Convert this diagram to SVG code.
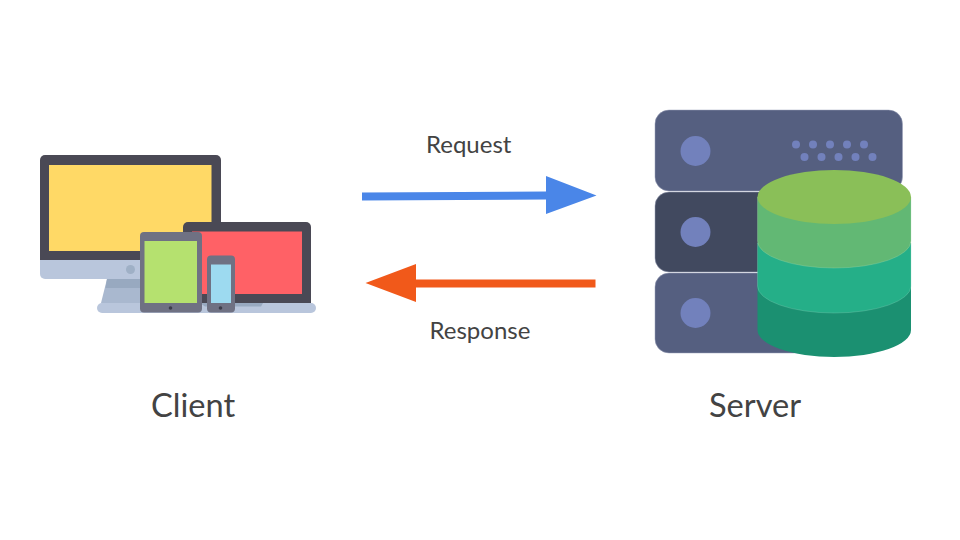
<svg xmlns="http://www.w3.org/2000/svg" width="960" height="540" viewBox="0 0 960 540">
<style>
text{font-family:Lato,"Open Sans",sans-serif;fill:#434343}
.lbl{font-size:24px}
.cap{font-size:32.600px}
.frame{fill:#4a4955}
.dev{fill:#6f7183}
.btn{fill:#3c3d4a}
.rackA{fill:#555f80;stroke:#9aa0b8;stroke-width:.5}
.rackB{fill:#41495f;stroke:#9aa0b8;stroke-width:.5}
.led{fill:#7281bc}
</style>
<rect width="960" height="540" fill="#fff"/>
<g id="client">
<path d="M107 279H188V303H101Z" fill="#a9b8cf"/>
<path d="M107 279H188V288H105.500Z" fill="#98a9c0"/>
<path d="M40 260H221V274a5 5 0 0 1-5 5H45a5 5 0 0 1-5-5Z" fill="#b9c6dc"/>
<path d="M45 155H216a5 5 0 0 1 5 5V260H40V160a5 5 0 0 1 5-5Z" class="frame"/>
<rect x="49" y="165" width="162.500" height="86" fill="#ffd966"/>
<circle cx="130.500" cy="269.500" r="4.500" fill="#9fb0c6"/>
<path d="M188 222H306a5 5 0 0 1 5 5V304H183V227a5 5 0 0 1 5-5Z" class="frame"/>
<rect x="192" y="231.500" width="110" height="62.500" fill="#ff6166"/>
<rect x="97" y="303" width="219" height="10" rx="5" fill="#b9c6dc"/>
<path d="M200 303H263L261 306.500H205Z" fill="#98a9c0"/>
<rect x="140" y="232" width="62" height="80.500" rx="4" class="dev"/>
<rect x="144.500" y="241" width="52.500" height="62" fill="#b5e16f"/>
<circle cx="170.500" cy="308" r="1.800" class="btn"/>
<rect x="207" y="255.500" width="28" height="57" rx="4" class="dev"/>
<rect x="211" y="264.500" width="20" height="38.500" fill="#9ddaf0"/>
<circle cx="220.500" cy="308" r="1.800" class="btn"/>
</g>
<g id="server">
<rect x="655" y="110" width="247.500" height="81" rx="14" class="rackA"/>
<rect x="655" y="192" width="180" height="80" rx="14" class="rackB"/>
<rect x="655" y="273" width="180" height="80" rx="14" class="rackA"/>
<circle cx="695.500" cy="151" r="15" class="led"/>
<circle cx="695.500" cy="232" r="15" class="led"/>
<circle cx="695.500" cy="313" r="15" class="led"/>
<g class="led">
<circle cx="796" cy="144.500" r="4"/><circle cx="813" cy="144.500" r="4"/><circle cx="830" cy="144.500" r="4"/><circle cx="847" cy="144.500" r="4"/><circle cx="864" cy="144.500" r="4"/>
<circle cx="804.500" cy="157" r="4"/><circle cx="821.500" cy="157" r="4"/><circle cx="838.500" cy="157" r="4"/><circle cx="855.500" cy="157" r="4"/><circle cx="872.500" cy="157" r="4"/>
</g>
</g>
<g id="database">
<path d="M757.500 286V330A76.750 27 0 0 0 911 330V286Z" fill="#1b9071"/>
<path d="M757.500 243V286A76.750 27 0 0 0 911 286V243Z" fill="#25af88" stroke="#8fd6c0" stroke-width=".3"/>
<path d="M757.500 197V241A76.750 27 0 0 0 911 241V197Z" fill="#62b874" stroke="#a9dcb0" stroke-width=".3"/>
<ellipse cx="834.250" cy="197" rx="76.750" ry="27" fill="#8abf58"/>
</g>
<g id="connectors">
<path d="M362 192.500L546 191.500V176L596.500 195.500L546 214V199.500L362 200.500Z" fill="#4a86e8"/>
<path d="M595.500 279.500H416V264L365.500 283L416 302V287.500H595.500Z" fill="#f1591a"/>
</g>
<text class="lbl" x="426" y="153">Request</text>
<text class="lbl" x="429.500" y="339">Response</text>
<text class="cap" x="151" y="416.500">Client</text>
<text class="cap" x="709" y="416.500">Server</text>
</svg>
